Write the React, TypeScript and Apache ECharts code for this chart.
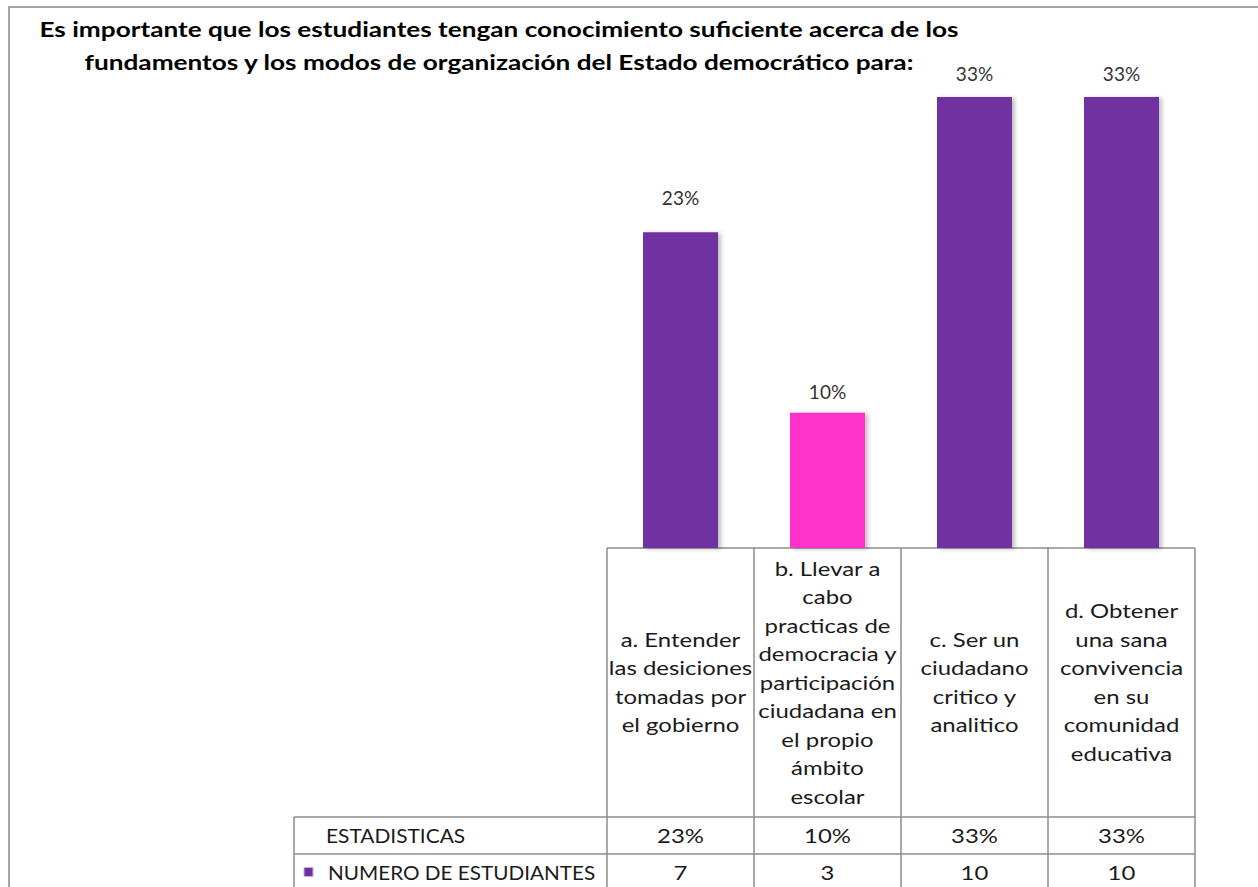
import React, { useEffect, useRef } from "react";
import * as echarts from "echarts";

const TITLE = "Es importante que los estudiantes tengan conocimiento suficiente acerca de los\nfundamentos y los modos de organización del Estado democrático para:";
const CATEGORIES = [
  "a. Entender\nlas desiciones\ntomadas por\nel gobierno",
  "b. Llevar a\ncabo\npracticas de\ndemocracia y\nparticipación\nciudadana en\nel propio\námbito\nescolar",
  "c. Ser un\nciudadano\ncritico y\nanalitico",
  "d. Obtener\nuna sana\nconvivencia\nen su\ncomunidad\neducativa",
];
const ROW_NAMES = ["ESTADISTICAS", "NUMERO DE ESTUDIANTES"];
const PERCENTS = ["23%", "10%", "33%", "33%"];
const STUDENTS = [7, 3, 10, 10];
const BAR_COLORS = ["#7030A0", "#FF33CC", "#7030A0", "#7030A0"];
const LABEL_GAPS = [25, 12, 14, 14];

const FONT = "Lato, 'Noto Sans', sans-serif";

export default function App() {
  const ref = useRef<HTMLDivElement>(null);
  useEffect(() => {
    if (!ref.current) return;
    const chart = echarts.init(ref.current, null, { renderer: "svg" });

    const gridLeft = 607;
    const gridRight = 1195;
    const tableTop = 548;
    const catBottom = 817;
    const rowH = 37;
    const headerLeft = 294;
    const bottomEdge = 900;
    const n = CATEGORIES.length;
    const colW = (gridRight - gridLeft) / n;
    const lineStyle = { stroke: "#8c8c8c", lineWidth: 1.5 };

    const graphics: any[] = [];
    // outer chart border
    graphics.push({
      type: "rect",
      shape: { x: 9, y: 7, width: 1400, height: 1000 },
      style: { fill: "none", stroke: "#a6a6a6", lineWidth: 2 },
      silent: true,
    });
    // title
    graphics.push({
      type: "text",
      x: 499,
      y: 13,
      scaleX: 1.247,
      style: {
        text: TITLE,
        fontFamily: FONT,
        fontSize: 21,
        fontWeight: "bold",
        fill: "#000",
        align: "center",
        verticalAlign: "top",
        lineHeight: 33,
      },
    });
    // horizontal table lines
    graphics.push({ type: "line", shape: { x1: gridLeft, y1: tableTop, x2: gridRight, y2: tableTop }, style: lineStyle });
    for (let r = 0; r < ROW_NAMES.length; r++) {
      const y = catBottom + r * rowH;
      graphics.push({ type: "line", shape: { x1: headerLeft, y1: y, x2: gridRight, y2: y }, style: lineStyle });
    }
    // vertical lines
    for (let i = 0; i <= n; i++) {
      const x = gridLeft + i * colW;
      graphics.push({ type: "line", shape: { x1: x, y1: tableTop, x2: x, y2: bottomEdge }, style: lineStyle });
    }
    graphics.push({ type: "line", shape: { x1: headerLeft, y1: catBottom, x2: headerLeft, y2: bottomEdge }, style: lineStyle });

    const textStyle = { fontFamily: FONT, fontSize: 19, fill: "#1a1a1a" };
    const cellScale = 1.26;
    // category labels
    CATEGORIES.forEach((c, i) => {
      graphics.push({
        type: "text",
        x: gridLeft + (i + 0.5) * colW,
        y: (tableTop + catBottom) / 2,
        scaleX: cellScale,
        style: { ...textStyle, text: c, align: "center", verticalAlign: "middle", lineHeight: 28.5 },
      });
    });
    // row headers
    graphics.push({
      type: "text",
      x: 326,
      y: catBottom + rowH / 2,
      scaleX: 1.1,
      style: { ...textStyle, text: ROW_NAMES[0], align: "left", verticalAlign: "middle" },
    });
    graphics.push({
      type: "rect",
      shape: { x: 304, y: catBottom + rowH + rowH / 2 - 5, width: 9, height: 9 },
      style: { fill: BAR_COLORS[0], stroke: "#c8b0dc", lineWidth: 1 },
    });
    graphics.push({
      type: "text",
      x: 328,
      y: catBottom + rowH + rowH / 2,
      scaleX: 1.09,
      style: { ...textStyle, text: ROW_NAMES[1], align: "left", verticalAlign: "middle" },
    });
    // row values
    PERCENTS.forEach((p, i) => {
      graphics.push({
        type: "text",
        x: gridLeft + (i + 0.5) * colW,
        y: catBottom + rowH / 2,
        scaleX: cellScale,
        style: { ...textStyle, text: p, align: "center", verticalAlign: "middle" },
      });
    });
    STUDENTS.forEach((s, i) => {
      graphics.push({
        type: "text",
        x: gridLeft + (i + 0.5) * colW,
        y: catBottom + rowH + rowH / 2,
        scaleX: cellScale,
        style: { ...textStyle, text: String(s), align: "center", verticalAlign: "middle" },
      });
    });

    chart.setOption({
      animation: false,
      backgroundColor: "#ffffff",
      grid: { left: gridLeft, right: 1258 - gridRight, top: 52, bottom: 887 - tableTop, containLabel: false },
      xAxis: {
        type: "category",
        data: CATEGORIES,
        axisLine: { show: false },
        axisTick: { show: false },
        axisLabel: { show: false },
      },
      yAxis: {
        type: "value",
        min: 0,
        max: 11,
        show: false,
        splitLine: { show: false },
      },
      series: [
        {
          type: "bar",
          name: ROW_NAMES[1],
          barWidth: 75,
          data: STUDENTS.map((v, i) => ({
            value: v,
            itemStyle: { color: BAR_COLORS[i] },
            label: { distance: LABEL_GAPS[i] },
          })),
          itemStyle: { shadowColor: "rgba(0,0,0,0.25)", shadowOffsetX: 3, shadowOffsetY: 1, shadowBlur: 4 },
          label: {
            show: true,
            position: "top",
            formatter: (p: any) => PERCENTS[p.dataIndex],
            fontFamily: FONT,
            fontSize: 19,
            color: "#333",
          },
        },
      ],
      graphic: graphics,
    });
    return () => chart.dispose();
  }, []);
  return <div ref={ref} style={{ position: "fixed", left: 0, top: 0, width: 1258, height: 887 }} />;
}
